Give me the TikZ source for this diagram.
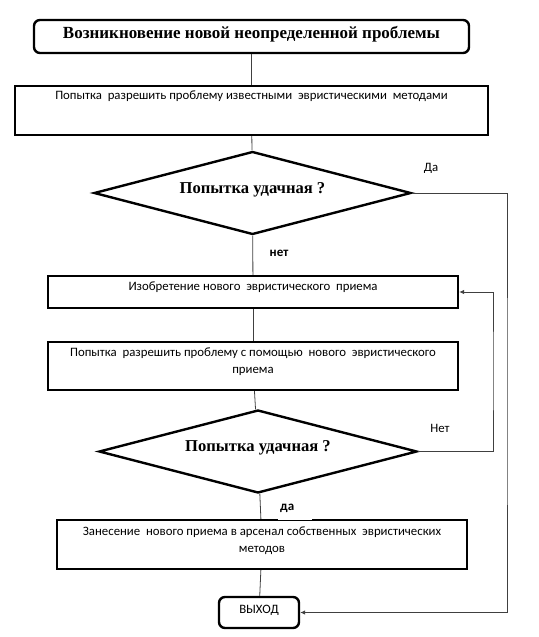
\documentclass[tikz,border=0pt]{standalone}
\usepackage{fontspec}
\setmainfont{Liberation Serif}
\newfontfamily\calfont{Carlito}
\usetikzlibrary{shapes.geometric,arrows.meta}
\begin{document}
\begin{tikzpicture}[x=1pt,y=-1pt,
  box/.style={draw, line width=2.4pt, inner xsep=0pt, inner ysep=0pt, font=\calfont\fontsize{12.8}{15}\selectfont},
  rbox/.style={box, rounded corners=6pt},
  dec/.style={draw, diamond, aspect=3.75, line width=2.4pt, inner sep=0pt, font=\bfseries\fontsize{16.6}{18}\selectfont, text height=8pt, text depth=8pt},
  conn/.style={line width=0.8pt, draw=black!75},
  arr/.style={conn, -{Latex[length=5pt,width=4.5pt]}},
  lbl/.style={font=\calfont\fontsize{12.8}{15}\selectfont, inner sep=1pt}
]
\useasboundingbox (0,0) rectangle (538,637);

\node[rbox, minimum width=435pt, text height=18pt, text depth=15pt, font=\bfseries\fontsize{17}{19}\selectfont] (t) at (251.5,36.5) {Возникновение новой неопределенной проблемы};
\node[box, minimum width=473pt, text height=13pt, text depth=36pt] (b1) at (251.5,110.5) {Попытка\ \ разрешить проблему известными\ \ эвристическими\ \ методами};
\node[dec, minimum width=317pt, minimum height=83pt] (d1) at (252.5,193) {Попытка удачная ?};
\node[box, minimum width=410pt, text height=14pt, text depth=18pt] (b2) at (253,292) {Изобретение нового\ \ эвристического\ \ приема};
\node[box, minimum width=410pt, text height=14pt, text depth=34pt] (b3) at (253,366) {\parbox[t]{400pt}{\centering\fontsize{12.8}{17.5}\selectfont Попытка\ \ разрешить проблему с помощью\ \ нового\ \ эвристического\\приема}};
\node[dec, minimum width=318pt, minimum height=83pt] (d2) at (258,451.5) {Попытка удачная ?};
\node[box, minimum width=410pt, text height=15pt, text depth=34pt] (b4) at (262,544.5) {\parbox[t]{400pt}{\centering\fontsize{12.8}{17.7}\selectfont Занесение\ \ нового приема в арсенал собственных\ \ эвристических\\методов}};
\node[rbox, minimum width=80pt, text height=16pt, text depth=15pt] (ex) at (259,612.5) {ВЫХОД};

\draw[conn] (t) -- (b1);
\draw[conn] (b1) -- (d1);
\draw[conn] (d1) -- (b2);
\draw[conn] (b2) -- (b3);
\draw[conn] (b3) -- (d2);
\draw[conn] (d2) -- (b4);
\draw[conn] (b4) -- (ex);
\coordinate (r1) at (507,400);
\draw[arr] (d1.east) -| (r1) |- (ex);
\coordinate (r2) at (493,370);
\draw[arr] (d2.east) -| (r2) |- (b2);

\node[lbl] (yes1) at (431,168) {Да};
\node[lbl, font=\calfont\bfseries\fontsize{13}{15}\selectfont] (no1) at (279,253) {нет};
\node[lbl] (no2) at (440,428) {Нет};
\node[lbl, fill=white, anchor=south west, inner sep=0pt, text width=34pt, align=left, text height=12pt, text depth=10pt, font=\calfont\bfseries\fontsize{13}{15}\selectfont] (yes2) at (278,520.5) {\hspace*{2pt}да};
\end{tikzpicture}
\end{document}
